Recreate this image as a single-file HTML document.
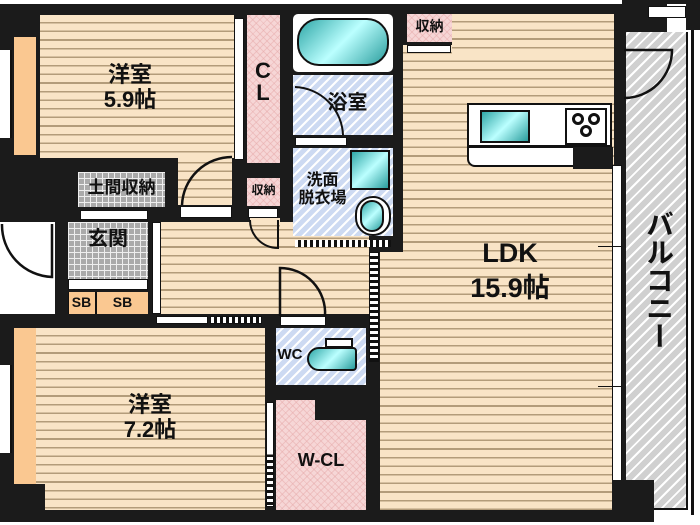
<!DOCTYPE html>
<html><head><meta charset="utf-8"><style>
*{margin:0;padding:0;box-sizing:border-box}
body{width:700px;height:525px;background:#fff;position:relative;overflow:hidden;font-family:"Liberation Sans","Noto Sans CJK JP",sans-serif}
div{position:absolute}
.st{background:repeating-linear-gradient(to bottom,#f9e4c6 0 7px,#b39c7a 7px 8.6px)}
.pk{background:#f6d6d6;background-image:repeating-linear-gradient(45deg,rgba(230,170,170,.5) 0 1px,transparent 1px 5px),repeating-linear-gradient(-45deg,rgba(230,170,170,.5) 0 1px,transparent 1px 5px)}
.bl{background:#cddaf2;background-image:repeating-linear-gradient(-45deg,#fff 0 2px,transparent 2px 7px)}
.gr{background:#d0d0d0;background-image:repeating-linear-gradient(-45deg,#fff 0 2px,transparent 2px 8px)}
.ck{background:#aaa;background-image:linear-gradient(#eee 1px,transparent 1px),linear-gradient(90deg,#eee 1px,transparent 1px);background-size:6px 6px}
.or{background:#fac891}
.w{background:#fff}
.t{font-weight:bold;color:#111;text-align:center;line-height:1.15;white-space:nowrap}
.tl{background:linear-gradient(135deg,#2fa7a7,#bff,#2a9d9d);border:2px solid #111}
</style></head><body>
<div style="left:0;top:4px;width:624px;height:518px;background:#1b1b1b"></div>
<div class="w" style="left:0;top:50px;width:12px;height:88px;border-right:2px solid #111"></div>
<div class="w" style="left:0;top:365px;width:12px;height:88px;border-right:2px solid #111"></div>
<div class="st" style="left:40px;top:15px;width:194px;height:143px"></div>
<div class="st" style="left:178px;top:155px;width:54px;height:50px"></div>
<div class="or" style="left:14px;top:37px;width:22px;height:118px"></div>
<div class="w" style="left:234px;top:18px;width:10px;height:142px;border:1px solid #111"></div>
<div class="pk" style="left:247px;top:15px;width:33px;height:148px"></div>
<div class="t" style="left:248px;top:60px;width:30px;font-size:22px;line-height:1">C<br>L</div>
<div class="t" style="left:70px;top:62px;width:120px;font-size:22px">洋室<br>5.9帖</div>
<div class="w" style="left:180px;top:206px;width:52px;height:12px;border:1px solid #111"></div>
<svg style="position:absolute;left:178px;top:155px" width="56" height="52"><path d="M54 2 A50 50 0 0 0 4 50" fill="none" stroke="#111" stroke-width="2.5"/></svg>
<div class="pk" style="left:247px;top:178px;width:33px;height:28px"></div>
<div class="t" style="left:245px;top:184px;width:37px;font-size:12px">収納</div>
<div class="w" style="left:248px;top:208px;width:30px;height:10px;border:1px solid #111"></div>
<div class="ck" style="left:78px;top:172px;width:87px;height:35px"></div>
<div class="t" style="left:78px;top:178px;width:87px;font-size:17px">土間収納</div>
<div class="w" style="left:80px;top:210px;width:68px;height:10px;border:1px solid #111"></div>
<div class="w" style="left:0;top:222px;width:55px;height:92px"></div>
<svg style="position:absolute;left:0;top:222px" width="56" height="60"><path d="M2 2 A52 52 0 0 0 52 55 L52 2" fill="none" stroke="#111" stroke-width="2.5"/></svg>
<div class="ck" style="left:68px;top:222px;width:80px;height:58px"></div>
<div class="t" style="left:68px;top:228px;width:80px;font-size:20px">玄関</div>
<div class="w" style="left:68px;top:279px;width:80px;height:11px;border:1px solid #111"></div>
<div class="or" style="left:68px;top:292px;width:80px;height:22px;border-left:1px solid #111"></div>
<div style="left:95px;top:292px;width:2px;height:22px;background:#111"></div>
<div class="t" style="left:68px;top:294px;width:27px;font-size:14px">SB</div>
<div class="t" style="left:97px;top:294px;width:51px;font-size:14px">SB</div>
<div class="w" style="left:152px;top:222px;width:9px;height:92px;border:1px solid #111"></div>
<div class="st" style="left:161px;top:222px;width:208px;height:92px"></div>
<div class="st" style="left:250px;top:218px;width:30px;height:10px"></div>
<svg style="position:absolute;left:248px;top:218px" width="32" height="32"><path d="M2 2 A28 28 0 0 0 30 30 L30 2" fill="none" stroke="#111" stroke-width="2"/></svg>
<svg style="position:absolute;left:278px;top:266px" width="50" height="52"><path d="M2 50 L2 2 A45 45 0 0 1 47 50" fill="none" stroke="#111" stroke-width="2.5"/></svg>
<div class="w" style="left:156px;top:316px;width:52px;height:8px;border:1px solid #111"></div>
<div class="w" style="left:210px;top:316px;width:52px;height:8px;border:1px solid #111;background:repeating-linear-gradient(90deg,#fff 0 3px,#111 3px 6px)"></div>
<div class="w" style="left:280px;top:316px;width:46px;height:10px;border:1px solid #111"></div>
<div class="w" style="left:293px;top:14px;width:100px;height:58px;border-radius:5px"></div>
<div class="tl" style="left:297px;top:18px;width:92px;height:48px;border-radius:22px"></div>
<div class="bl" style="left:293px;top:75px;width:100px;height:60px"></div>
<div class="t" style="left:310px;top:92px;width:75px;font-size:20px">浴室</div>
<svg style="position:absolute;left:293px;top:85px" width="60" height="52"><path d="M2 2 A50 50 0 0 1 50 50" fill="none" stroke="#111" stroke-width="2"/></svg>
<div class="w" style="left:295px;top:137px;width:52px;height:9px;border:1px solid #111"></div>
<div class="bl" style="left:293px;top:148px;width:100px;height:88px"></div>
<div class="tl" style="left:350px;top:150px;width:40px;height:40px"></div>
<div class="w" style="left:355px;top:196px;width:36px;height:40px;border-radius:18px;border:2px solid #111"></div>
<div class="tl" style="left:360px;top:200px;width:24px;height:32px;border-radius:12px"></div>
<div class="t" style="left:290px;top:172px;width:65px;font-size:16px">洗面<br>脱衣場</div>
<div class="w" style="left:295px;top:240px;width:96px;height:7px;background:repeating-linear-gradient(90deg,#fff 0 3px,#111 3px 6px)"></div>
<!-- LDK -->
<div class="st" style="left:403px;top:45px;width:211px;height:210px"></div>
<div class="st" style="left:380px;top:252px;width:234px;height:258px"></div>
<div class="st" style="left:452px;top:14px;width:162px;height:40px"></div>
<div class="pk" style="left:407px;top:14px;width:45px;height:28px"></div>
<div class="t" style="left:407px;top:18px;width:45px;font-size:14px">収納</div>
<div class="w" style="left:407px;top:45px;width:44px;height:8px;border:1px solid #111"></div>
<div class="w" style="left:369px;top:252px;width:10px;height:110px;border:1px solid #111;background:repeating-linear-gradient(180deg,#fff 0 3px,#111 3px 6px)"></div>
<div style="left:467px;top:103px;width:145px;height:64px;background:#fff;border:2px solid #111;border-radius:0 0 0 8px"></div>
<div style="left:467px;top:145px;width:145px;height:3px;background:#111"></div>
<div style="left:573px;top:147px;width:40px;height:22px;background:#1b1b1b"></div>
<div class="tl" style="left:480px;top:110px;width:50px;height:33px"></div>
<div style="left:565px;top:108px;width:42px;height:37px;border:2px solid #111;background:#fff"></div>
<div style="left:572px;top:113px;width:12px;height:12px;border-radius:6px;border:3px solid #111"></div>
<div style="left:588px;top:113px;width:12px;height:12px;border-radius:6px;border:3px solid #111"></div>
<div style="left:580px;top:125px;width:12px;height:12px;border-radius:6px;border:3px solid #111"></div>
<div class="t" style="left:445px;top:236px;width:130px;font-size:27px;line-height:1.3">LDK<br>15.9帖</div>
<div class="w" style="left:612px;top:165px;width:10px;height:340px;border:1px solid #111"></div>
<div style="left:598px;top:246px;width:26px;height:1px;background:#111"></div>
<div style="left:598px;top:386px;width:26px;height:1px;background:#111"></div>
<div style="left:622px;top:0;width:78px;height:525px;background:#fff"></div>
<div style="left:622px;top:0;width:78px;height:4px;background:#1b1b1b"></div>
<div style="left:686px;top:0;width:14px;height:30px;background:#1b1b1b"></div>
<div style="left:691px;top:30px;width:3px;height:485px;background:#111"></div>
<div style="left:622px;top:4px;width:4px;height:510px;background:#1b1b1b"></div>
<div style="left:622px;top:4px;width:45px;height:28px;background:#1b1b1b"></div>
<div class="gr" style="left:626px;top:32px;width:62px;height:478px;border-right:2px solid #111;border-bottom:2px solid #111"></div>
<div class="w" style="left:648px;top:6px;width:38px;height:12px;border:1px solid #111"></div>
<svg style="position:absolute;left:622px;top:48px" width="72" height="56"><path d="M2 2 L50 2 A48 48 0 0 1 2 50" fill="none" stroke="#111" stroke-width="2.5"/></svg>
<div style="left:612px;top:480px;width:42px;height:42px;background:#1b1b1b"></div>
<div class="t" style="left:640px;top:210px;width:36px;font-size:28px;writing-mode:vertical-rl;line-height:36px">バルコニー</div>
<div class="st" style="left:36px;top:328px;width:229px;height:182px"></div>
<div class="or" style="left:14px;top:328px;width:22px;height:156px"></div>
<div style="left:14px;top:484px;width:31px;height:26px;background:#1b1b1b"></div>
<div class="t" style="left:95px;top:392px;width:110px;font-size:22px">洋室<br>7.2帖</div>
<div class="w" style="left:266px;top:402px;width:8px;height:105px;border:1px solid #111;background:linear-gradient(#fff 0 50%,transparent 50%),repeating-linear-gradient(180deg,#fff 0 3px,#111 3px 6px)"></div>
<div class="bl" style="left:276px;top:328px;width:90px;height:57px"></div>
<div class="t" style="left:276px;top:346px;width:28px;font-size:15px">WC</div>
<div class="tl" style="left:307px;top:347px;width:50px;height:24px;border-radius:12px 4px 4px 12px"></div>
<div class="w" style="left:325px;top:338px;width:28px;height:10px;border:2px solid #111"></div>
<div class="pk" style="left:276px;top:400px;width:90px;height:110px"></div>
<div style="left:315px;top:398px;width:52px;height:22px;background:#1b1b1b"></div>
<div class="t" style="left:276px;top:450px;width:90px;font-size:18px">W-CL</div>
</body></html>
